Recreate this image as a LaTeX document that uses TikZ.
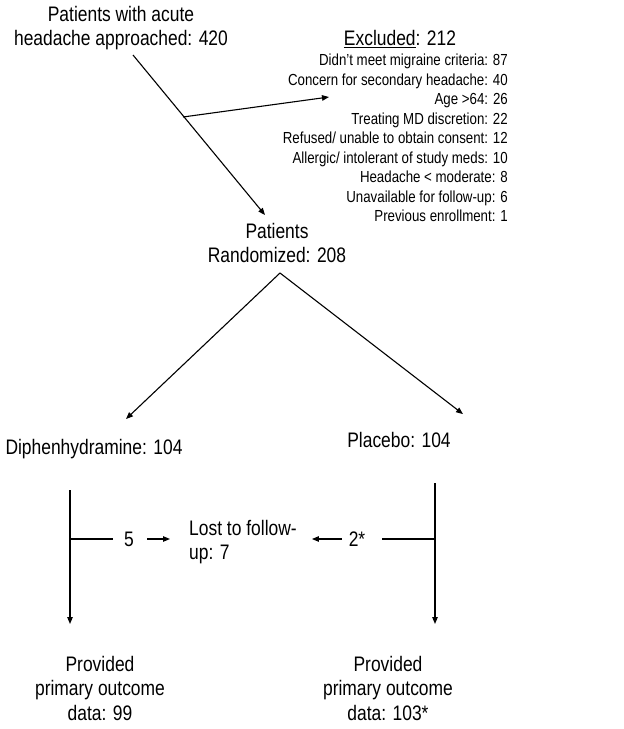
\documentclass[tikz,border=0pt]{standalone}
\usepackage{fontspec}
\setmainfont[FakeStretch=0.83]{Liberation Sans}
\usetikzlibrary{arrows.meta,calc}

\tikzset{
  lbl/.style={inner sep=0pt, align=center, font=\fontsize{21}{24.5}\selectfont},
  small/.style={font=\fontsize{16}{19.5}\selectfont},
  ln/.style={line width=1.1pt},
  arr/.style={ln, -{Triangle[length=7pt,width=5.5pt]}}
}

\begin{document}
\begin{tikzpicture}[x=1pt,y=-1pt]
  \useasboundingbox (0,0) rectangle (624,729);
  % Screening and exclusions
  \node[lbl] (approach) at (121,28) {Patients with acute\\headache approached: 420};
  \node[lbl] (excl) at (400,39) {\underline{Excluded}: 212};
  \node[lbl, small, align=right, anchor=east] (reasons) at (508,138)
    {Didn’t meet migraine criteria: 87\\
     Concern for secondary headache: 40\\
     Age >64: 26\\
     Treating MD discretion: 22\\
     Refused/ unable to obtain consent: 12\\
     Allergic/ intolerant of study meds: 10\\
     Headache < moderate: 8\\
     Unavailable for follow-up: 6\\
     Previous enrollment: 1};
  \node[lbl] (rand) at (277,243) {Patients\\Randomized: 208};
  % Study arms
  \node[lbl] (diph) at (94,449) {Diphenhydramine: 104};
  \node[lbl] (plac) at (399,440) {Placebo: 104};
  \node[lbl, align=left, anchor=west] (lost) at (189,542) {Lost to follow-\\up: 7};
  \node[lbl] (nlost5) at (129,539) {5};
  \node[lbl] (nlost2) at (357,539) {2*};
  \node[lbl] (outl) at (100,688) {Provided\\primary outcome\\data: 99};
  \node[lbl] (outr) at (388,688) {Provided\\primary outcome\\data: 103*};

  % junction points
  \coordinate (top) at (133,55);
  \coordinate (split) at (183,117);
  \coordinate (toexcl) at (329,97);
  \coordinate (apex) at (280,273);
  \coordinate (ltop) at (70,490);
  \coordinate (ljoin) at (nlost5 -| ltop);
  \coordinate (lbot) at (70,624);
  \coordinate (rtop) at (435,483);
  \coordinate (rjoin) at (nlost2 -| rtop);
  \coordinate (rbot) at (435,624);

  % connectors
  \draw[arr] (top) -- (265,215) coordinate (torand);
  \draw[arr] (split) -- (toexcl);
  \draw[arr] (apex) -- ($(diph.north)+(32,-20)$);
  \draw[arr] (apex) -- ($(plac.north)+(64,-18)$);
  \draw[arr] (ltop) -- (lbot);
  \draw[arr] (rtop) -- (rbot);
  \draw[ln, shorten >=11pt] (ljoin) -- (nlost5.west);
  \draw[arr, shorten <=13pt, shorten >=19pt] (nlost5.east) -- (lost.west |- nlost5);
  \draw[ln, shorten >=17pt] (rjoin) -- (nlost2.east);
  \draw[arr, shorten <=7pt, shorten >=15pt] (nlost2.west) -- (lost.east |- nlost2);
\end{tikzpicture}
\end{document}
